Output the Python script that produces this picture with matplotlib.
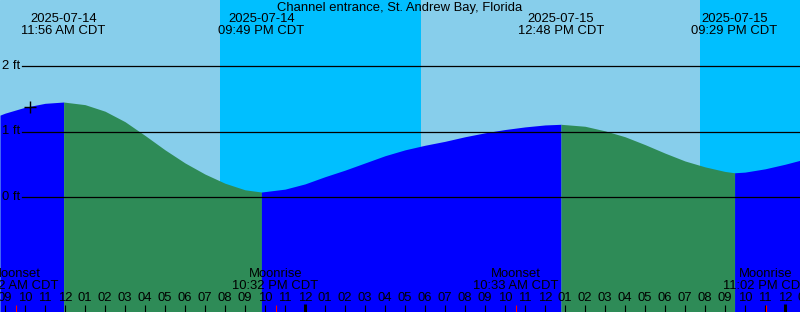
import matplotlib.pyplot as plt
import numpy as np

plt.rcParams['font.family'] = ['Liberation Sans', 'DejaVu Sans']

title = "Channel entrance, St. Andrew Bay, Florida"

# hours since midnight 2025-07-14 CDT, tide height in ft
hours = [8.75, 9, 10, 11, 11.93, 13, 14, 15, 16, 17, 18, 19, 20, 21, 21.82,
         23, 24, 25, 26, 27, 28, 29, 30, 31, 32, 33, 34, 35, 36, 36.8,
         38, 39, 40, 41, 42, 43, 44, 45, 45.48, 46, 47, 48, 48.75]
heights = [1.25, 1.28, 1.37, 1.43, 1.45, 1.41, 1.31, 1.15, 0.94, 0.72, 0.52, 0.35,
           0.21, 0.11, 0.076, 0.12, 0.20, 0.31, 0.41, 0.52, 0.63, 0.72, 0.79,
           0.85, 0.92, 0.98, 1.03, 1.07, 1.10, 1.11, 1.08, 1.01, 0.92, 0.80,
           0.67, 0.55, 0.46, 0.39, 0.37, 0.38, 0.43, 0.50, 0.56]

tide_times = [11.93, 21.82, 36.8, 45.48]
tide_dates = ['2025-07-14', '2025-07-14', '2025-07-15', '2025-07-15']
tide_clock = ['11:56 AM CDT', '09:49 PM CDT', '12:48 PM CDT', '09:29 PM CDT']

moon_times = [9.53, 22.53, 34.55, 47.03]
moon_events = ['Moonset', 'Moonrise', 'Moonset', 'Moonrise']
moon_clock = ['09:32 AM CDT', '10:32 PM CDT', '10:33 AM CDT', '11:02 PM CDT']

night = [(19.75, 29.8), (43.75, 48.75)]
levels = [0, 1, 2]
now_time, now_height = 10.25, 1.38

t0, t1 = 8.75, 48.75
ybot, ytop = -115 / 65.5, 197 / 65.5
fs = 9.35

fig = plt.figure(figsize=(8, 3.12), dpi=100)
ax = fig.add_axes([0, 0, 1, 1])
ax.set_xlim(t0, t1)
ax.set_ylim(ybot, ytop)
ax.axis('off')
ax.add_patch(plt.Rectangle((0, 0), 1, 1, transform=ax.transAxes,
                           color='#87CEEB', zorder=0))
for a, b in night:
    ax.axvspan(a, b, color='#00BFFF', lw=0, zorder=1)

t = np.array(hours)
h = np.array(heights)
bounds = [t0] + tide_times + [t1]
for a, b in zip(bounds[:-1], bounds[1:]):
    m = (t >= a) & (t <= b)
    col = '#0000FF' if h[m][-1] > h[m][0] else '#2E8B57'
    ax.fill_between(t[m], ybot, h[m], color=col, lw=0, zorder=2)

for lev in levels:
    ax.axhline(lev, xmin=22 / 800, color='black', lw=0.9, zorder=3)
    ax.text(0.003, lev, f'{lev} ft', transform=ax.get_yaxis_transform(),
            ha='left', va='center', fontsize=fs, zorder=4)

ax.plot([now_time], [now_height], marker='+', color='black', ms=9, mew=1,
        zorder=4)

ax.text(0.5, 1 - 8 / 312, title, transform=ax.transAxes, ha='center',
        va='center', fontsize=fs, zorder=4)
for tt, d, c in zip(tide_times, tide_dates, tide_clock):
    ax.text(tt, 1 - 19.5 / 312, d, transform=ax.get_xaxis_transform(),
            ha='center', va='center', fontsize=fs, zorder=4)
    ax.text(tt, 1 - 31.5 / 312, c, transform=ax.get_xaxis_transform(),
            ha='center', va='center', fontsize=fs, zorder=4)

xt = ax.get_xaxis_transform()
for hr in range(8, 50):
    lab = f'{(hr % 12) or 12:02d}'
    ax.text(hr, 14 / 312, lab, transform=xt, ha='center', va='center',
            fontsize=fs, zorder=4, clip_on=True)
    if hr % 24 == 0:
        ax.vlines(hr, 0, 8 / 312, transform=xt, color='black', lw=2.2,
                  zorder=4)
    else:
        ax.vlines(hr, 0, 7 / 312, transform=xt, color='black', lw=0.8,
                  zorder=4)
for mt, ev, c in zip(moon_times, moon_events, moon_clock):
    ax.vlines(mt, 0, 7 / 312, transform=xt, color='red', lw=0.8, zorder=5)
    ax.text(mt, 38 / 312, ev, transform=xt, ha='center', va='center',
            fontsize=fs, zorder=4)
    ax.text(mt, 26 / 312, c, transform=xt, ha='center', va='center',
            fontsize=fs, zorder=4)

fig.savefig('out.png', dpi=100)
